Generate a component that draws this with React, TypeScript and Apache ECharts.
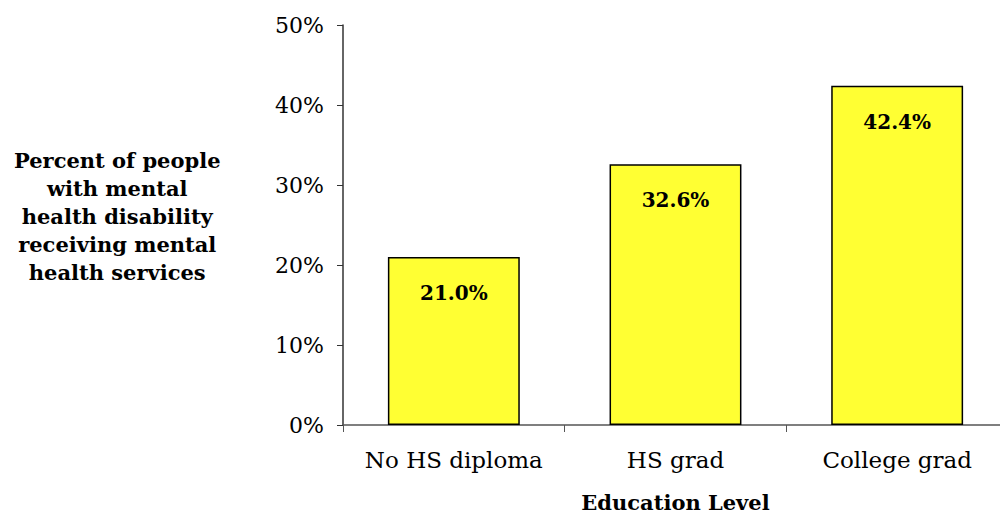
import React, { useEffect, useRef } from "react";
import * as echarts from "echarts";

const categories = ["No HS diploma", "HS grad", "College grad"];
const values = [21.0, 32.6, 42.4];
const yTicks = [0, 10, 20, 30, 40, 50];
const yAxisTitle = "Percent of people\nwith mental\nhealth disability\nreceiving mental\nhealth services";
const xAxisTitle = "Education Level";

const FONT = "'DejaVu Serif', serif";

export default function App() {
  const ref = useRef<HTMLDivElement>(null);
  useEffect(() => {
    if (!ref.current) return;
    const chart = echarts.init(ref.current, null, { renderer: "svg" });
    chart.setOption({
      animation: false,
      backgroundColor: "#ffffff",
      grid: {
        left: 343,
        top: 25,
        width: 665,
        height: 400,
        containLabel: false,
        outerBoundsMode: "none",
      },
      xAxis: {
        type: "category",
        data: categories,
        axisLine: { lineStyle: { color: "#555", width: 1.5 } },
        axisTick: { show: true, alignWithLabel: false, length: 7, lineStyle: { color: "#555" } },
        axisLabel: { color: "#000", fontFamily: FONT, fontSize: 23, margin: 23, interval: 0, hideOverlap: false },
        name: xAxisTitle,
        nameLocation: "middle",
        nameGap: 67,
        nameTextStyle: { color: "#000", fontFamily: FONT, fontSize: 21, fontWeight: "bold" },
      },
      yAxis: {
        type: "value",
        min: yTicks[0],
        max: yTicks[yTicks.length - 1],
        interval: 10,
        axisLine: { show: true, lineStyle: { color: "#333", width: 1.5 } },
        axisTick: { show: true, length: 6, lineStyle: { color: "#333" } },
        splitLine: { show: false },
        axisLabel: { color: "#000", fontFamily: FONT, fontSize: 22, margin: 19, formatter: "{value}%" },
      },
      graphic: [
        {
          type: "text",
          left: 14,
          top: 146,
          style: {
            text: yAxisTitle,
            fill: "#000",
            font: `bold 21px ${FONT}`,
            textAlign: "center",
            lineHeight: 28,
            x: 105,
          },
        },
      ],
      series: [
        {
          type: "bar",
          data: values,
          barWidth: "59.5%",
          itemStyle: { color: "#FFFF33", borderColor: "#000", borderWidth: 1.5 },
          label: {
            show: true,
            position: "insideTop",
            distance: 26,
            color: "#000",
            fontFamily: FONT,
            fontSize: 20,
            fontWeight: "bold",
            formatter: (p: any) => p.value.toFixed(1) + "%",
          },
        },
      ],
    });
    return () => chart.dispose();
  }, []);
  return (
    <div
      ref={ref}
      style={{ position: "absolute", left: 0, top: 0, width: 1000, height: 514 }}
    />
  );
}
